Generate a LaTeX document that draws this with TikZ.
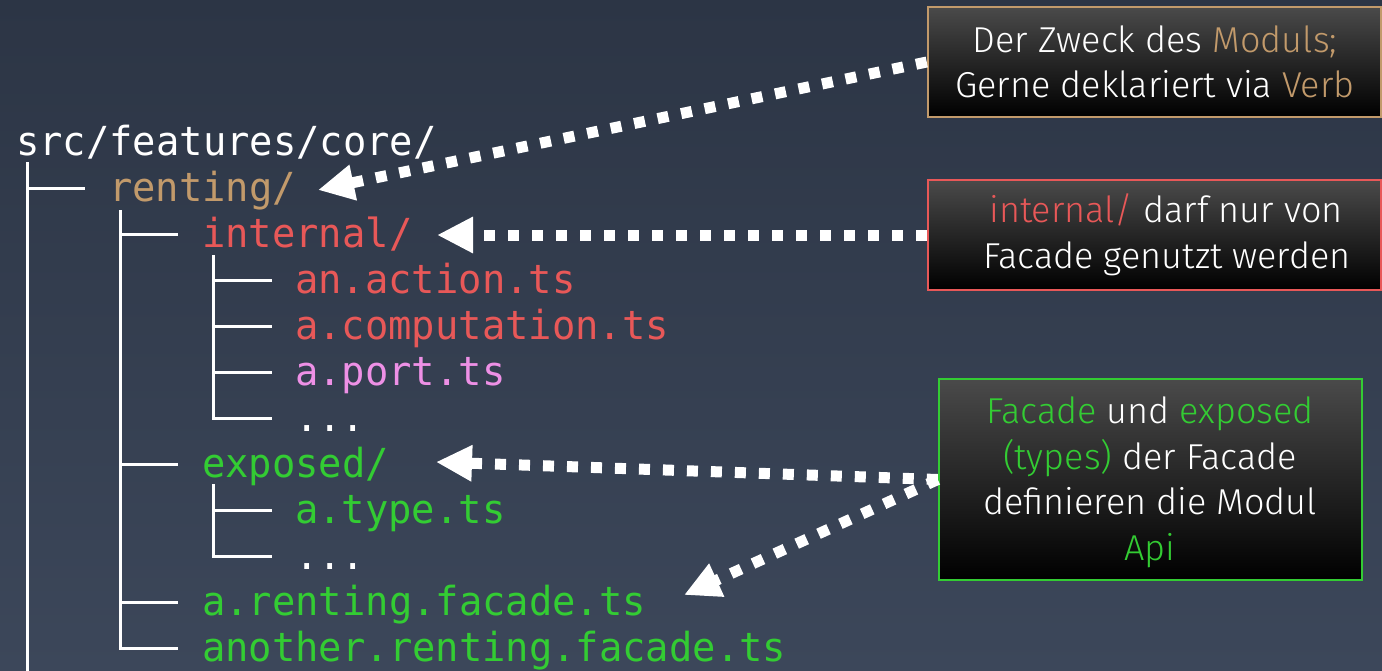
\documentclass[tikz,border=0pt]{standalone}
\usepackage{fontspec}
\usetikzlibrary{arrows.meta}
\newfontfamily\treefont{DejaVu Sans Mono}[FakeStretch=0.97]
\newfontfamily\notefont{Fira Sans Light}
\definecolor{bgtop}{HTML}{2C3545}
\definecolor{bgbottom}{HTML}{3C475A}
\definecolor{tan}{HTML}{C29A6B}
\definecolor{codered}{HTML}{E85858}
\definecolor{codepink}{HTML}{EE90E6}
\definecolor{codegreen}{HTML}{33CC33}
\definecolor{boxtop}{HTML}{4A4A4A}
\tikzset{
  entry/.style={anchor=base west, inner sep=0pt, text=white,
    font=\treefont\fontsize{40}{46}\selectfont},
  branch/.style={draw=white, line width=3pt},
  note/.style={rectangle, line width=2.5pt, top color=boxtop, bottom color=black,
    inner sep=0pt},
  noteline/.style={anchor=base, inner sep=0pt, text=white,
    font=\notefont\fontsize{36}{45}\selectfont},
  pointer/.style={draw=white, line width=11pt, dash pattern=on 11pt off 13pt,
    -{Triangle[length=36pt,width=34pt]}},
}
\begin{document}
\begin{tikzpicture}[x=1pt,y=-1pt]
  % background
  \fill[top color=bgtop, bottom color=bgbottom] (0,0) rectangle (1382,670);
  \useasboundingbox (0,0) rectangle (1382,670);

  % directory tree: entries
  \node[entry] (root) at (16,155) {src/features/core/};
  \node[entry, text=tan] (renting) at (109,201) {renting/};
  \node[entry, text=codered] (internal) at (202,247) {internal/};
  \node[entry, text=codered] (action) at (295,293) {an.action.ts};
  \node[entry, text=codered] (computation) at (295,339) {a.computation.ts};
  \node[entry, text=codepink] (port) at (295,385) {a.port.ts};
  \node[entry] (moreinternal) at (295,431) {...};
  \node[entry, text=codegreen] (exposed) at (202,477) {exposed/};
  \node[entry, text=codegreen] (type) at (295,523) {a.type.ts};
  \node[entry] (moreexposed) at (295,569) {...};
  \node[entry, text=codegreen] (facade) at (202,615) {a.renting.facade.ts};
  \node[entry, text=codegreen] (anotherfacade) at (202,661) {another.renting.facade.ts};

  % directory tree: guide lines
  \draw[branch] (27,162) -- (27,672);
  \draw[branch] (27,188) -- (85,188);
  \draw[branch] (120,210) -- (120,648) -- (178,648);
  \foreach \y in {234,464,602} \draw[branch] (120,\y) -- (178,\y);
  \draw[branch] (213,255) -- (213,418) -- (272,418);
  \foreach \y in {280,326,372} \draw[branch] (213,\y) -- (272,\y);
  \draw[branch] (213,484) -- (213,556) -- (272,556);
  \draw[branch] (213,510) -- (272,510);

  % notes
  \node[note, draw=tan, minimum width=453pt, minimum height=110pt] (purpose) at (1154.5,62) {};
  \node[noteline] (purpose1) at (1155,52) {Der Zweck des \textcolor{tan}{Moduls;}};
  \node[noteline] (purpose2) at (1155,97) {Gerne deklariert via \textcolor{tan}{Verb}};

  \node[note, draw=codered, minimum width=453pt, minimum height=110pt] (access) at (1154.5,235) {};
  \node[noteline] (access1) at (1166,222) {\textcolor{codered}{internal/} darf nur von};
  \node[noteline] (access2) at (1167,268) {Facade genutzt werden};

  \node[note, draw=codegreen, minimum width=423pt, minimum height=201pt] (api) at (1150.5,479.5) {};
  \node[noteline] (api1) at (1150,423) {\textcolor{codegreen}{Facade} und \textcolor{codegreen}{exposed}};
  \node[noteline] (api2) at (1150,469) {\textcolor{codegreen}{(types)} der Facade};
  \node[noteline] (api3) at (1150,514) {definieren die Modul};
  \node[noteline, text=codegreen] (api4) at (1150,560) {Api};

  % pointers from the notes to the tree
  \coordinate (tipRenting) at (318,190);
  \coordinate (tipInternal) at (437,235);
  \coordinate (tipExposed) at (436,462);
  \coordinate (tipFacade) at (684,595);
  \draw[pointer] (purpose.west) -- (tipRenting);
  \draw[pointer] (access.west) -- (tipInternal);
  \draw[pointer] (api.west) -- (tipExposed);
  \draw[pointer] (api.west) -- (tipFacade);
\end{tikzpicture}
\end{document}
